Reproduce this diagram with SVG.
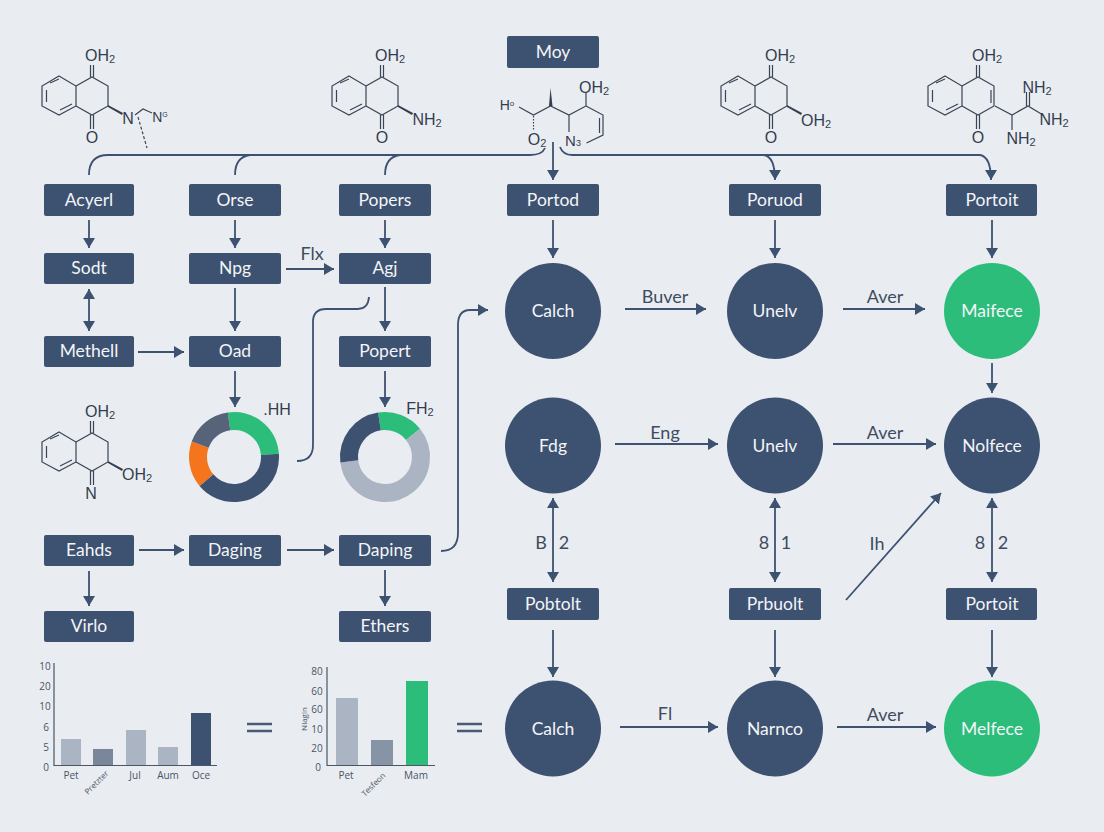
<svg xmlns="http://www.w3.org/2000/svg" width="1104" height="832" viewBox="0 0 1104 832">
<style>
text{font-family:"Lato","Open Sans","Liberation Sans",sans-serif}
.bx{fill:#3d5170}
.dk{fill:#3d5170}
.gr{fill:#2dbd7b}
.nt{fill:#f3f5f8;font-size:17.500px;text-anchor:middle;dominant-baseline:central;transform:translateY(-1px)}
.lb{fill:#3f4c60;font-size:18px;text-anchor:middle;dominant-baseline:central;transform:translateY(-1px)}
.c{fill:none;stroke:#3d5170;stroke-width:1.800}
.a{marker-end:url(#ah)}
.d{marker-end:url(#ah);marker-start:url(#ah)}
.b{fill:none;stroke:#3a4454;stroke-width:1.200}
.w{fill:#333d4d}
.ch{fill:#333d4d;font-family:"Liberation Sans",sans-serif;font-size:16px;text-anchor:middle;dominant-baseline:central}
.sb{font-size:11px}
.t{fill:#4a5464;font-size:10px;text-anchor:middle;dominant-baseline:central;font-family:"Open Sans",sans-serif}
.ax{stroke:#4a5568;stroke-width:1.200;fill:none}
.eq{stroke:#4a5b74;stroke-width:2.600}
.dn{fill:none;stroke-width:18}
</style>
<defs>
<marker id="ah" markerUnits="userSpaceOnUse" markerWidth="12" markerHeight="12" refX="10" refY="6" orient="auto-start-reverse"><path d="M0 0L10 6L0 12z" fill="#3d5170"/></marker>
<g id="ring">
<path class="b" d="M59 76L76 86L76 106L59 115L42 106L42 86Z"/>
<path class="b" d="M46.500 90V102M50 83L59 79M60 110L72 104"/>
<path class="b" d="M76 86L92 77L108 86L108 106L92 115L76 106"/>
</g>
<path id="co" class="b" d="M90.500 77V65M93.500 77V65"/>
<path id="co2" class="b" d="M90.500 115V129M93.500 115V129"/>
</defs>
<rect width="1104" height="832" fill="#e9edf2"/>

<g id="connectors">
<path class="c" d="M89 175Q89 155 108 155H530Q542 155 545 148"/>
<path class="c" d="M235 175Q235 157 250 155"/>
<path class="c" d="M385 175Q385 157 400 155"/>
<path class="c a" d="M553 142V180"/>
<path class="c" d="M560 147Q563 155 572 155H980"/>
<path class="c a" d="M764 155Q775 157 775 180"/>
<path class="c a" d="M980 155Q991 157 991 180"/>
<path class="c a" d="M89 220V248"/><path class="c a" d="M235 220V248"/><path class="c a" d="M385 220V248"/>
<path class="c a" d="M553 220V258"/><path class="c a" d="M775 220V258"/><path class="c a" d="M992 220V258"/>
<path class="c d" d="M89 289V331"/><path class="c a" d="M235 288V331"/><path class="c a" d="M385 287V331"/>
<path class="c a" d="M286 269H334"/><path class="c a" d="M138 352H184"/>
<path class="c a" d="M235 371V407"/><path class="c a" d="M385 371V407"/>
<path class="c" d="M297 461Q313 461 313 445V322Q313 309 326 309H358Q368 309 369 297"/>
<path class="c a" d="M441 551Q458 551 458 533V325Q458 310 470 310H488"/>
<path class="c a" d="M139 550H184"/><path class="c a" d="M287 550H334"/>
<path class="c a" d="M89 571V606"/><path class="c a" d="M385 570V606"/>
<path class="c a" d="M625 309H706"/><path class="c a" d="M843 309H925"/>
<path class="c a" d="M992 363V393"/>
<path class="c a" d="M615 444H718"/><path class="c a" d="M833 444H936"/>
<path class="c d" d="M553 498V582"/><path class="c d" d="M775 498V582"/><path class="c d" d="M992 498V582"/>
<path class="c a" d="M846 600L941 493"/>
<path class="c a" d="M553 630V677"/><path class="c a" d="M775 630V677"/><path class="c a" d="M992 630V677"/>
<path class="c a" d="M620 727H718"/><path class="c a" d="M837 727H936"/>
</g>

<g id="mol1"><use href="#ring"/><use href="#co"/><use href="#co2"/>
<path class="w" d="M108 105L123 113L122 115L108 107Z"/>
<text class="ch" x="100" y="55">OH<tspan class="sb" dy="4">2</tspan></text><text class="ch" x="92" y="137">O</text>
<text class="ch" x="128" y="118">N</text><text class="ch" x="160" y="117" style="font-size:14px">N<tspan class="sb" dy="-3" style="font-size:7px">G</tspan></text>
<path class="b" d="M135 115L143 109L152 113"/><path class="b" stroke-dasharray="3 2" d="M138 117L147 148"/></g>
<g id="mol2"><g transform="translate(290)"><use href="#ring"/><use href="#co"/><use href="#co2"/><path class="w" d="M108 105L123 113L122 115L108 107Z"/></g>
<text class="ch" x="390" y="55">OH<tspan class="sb" dy="4">2</tspan></text><text class="ch" x="382" y="137">O</text><text class="ch" x="427" y="119">NH<tspan class="sb" dy="4">2</tspan></text></g>
<g id="mol3"><g transform="translate(679)"><use href="#ring"/><use href="#co"/><use href="#co2"/><path class="w" d="M108 105L123 113L122 115L108 107Z"/></g>
<text class="ch" x="780" y="55">OH<tspan class="sb" dy="4">2</tspan></text><text class="ch" x="771" y="137">O</text><text class="ch" x="816" y="120">OH<tspan class="sb" dy="4">2</tspan></text></g>
<g id="mol4"><g transform="translate(886)"><use href="#ring"/><use href="#co"/><use href="#co2"/></g>
<path class="b" d="M991 90V103M995 106L1012 115L1028 106L1043 115M1012 115V130M1026.500 106V92M1029.500 106V92"/>
<text class="ch" x="987" y="55">OH<tspan class="sb" dy="4">2</tspan></text><text class="ch" x="978" y="137">O</text>
<text class="ch" x="1037" y="87">NH<tspan class="sb" dy="4">2</tspan></text><text class="ch" x="1054" y="119">NH<tspan class="sb" dy="4">2</tspan></text><text class="ch" x="1021" y="138">NH<tspan class="sb" dy="4">2</tspan></text></g>
<g id="mol5"><path class="b" d="M519 107L533.500 115L550.500 106L569 115L586 106V92M586 106L603 115V135L586.500 143M599.500 118V133M569 115V132"/>
<path class="w" d="M549 106L550.500 88L552.500 106Z"/>
<path class="b" stroke-dasharray="1.500 1.500" stroke-width="3" d="M533.500 116V130"/>
<text class="ch" x="507" y="105" style="font-size:14px">H<tspan class="sb" dy="-2" style="font-size:8px">o</tspan></text>
<text class="ch" x="594" y="87">OH<tspan class="sb" dy="4">2</tspan></text><text class="ch" x="537" y="139">O<tspan class="sb" dy="4">2</tspan></text><text class="ch" x="573" y="140" style="font-size:15px">N<tspan class="sb" dy="3" style="font-size:9px">3</tspan></text></g>
<g id="mol6"><g transform="translate(0 356)"><use href="#ring"/><use href="#co"/><use href="#co2"/><path class="w" d="M108 105L123 113L122 115L108 107Z"/></g>
<text class="ch" x="100" y="411">OH<tspan class="sb" dy="4">2</tspan></text><text class="ch" x="137" y="474">OH<tspan class="sb" dy="4">2</tspan></text><text class="ch" x="91" y="493">N</text></g>

<g id="n-moy"><rect class="bx" x="507" y="36" width="92" height="32" rx="2"/><text class="nt" x="553" y="52">Moy</text></g>
<g id="n-acyerl"><rect class="bx" x="44" y="184" width="90" height="32" rx="2"/><text class="nt" x="89" y="200">Acyerl</text></g>
<g id="n-orse"><rect class="bx" x="189" y="184" width="92" height="32" rx="2"/><text class="nt" x="235" y="200">Orse</text></g>
<g id="n-popers"><rect class="bx" x="339" y="184" width="92" height="32" rx="2"/><text class="nt" x="385" y="200">Popers</text></g>
<g id="n-portod"><rect class="bx" x="507" y="184" width="92" height="32" rx="2"/><text class="nt" x="553" y="200">Portod</text></g>
<g id="n-poruod"><rect class="bx" x="729" y="184" width="92" height="32" rx="2"/><text class="nt" x="775" y="200">Poruod</text></g>
<g id="n-portoit1"><rect class="bx" x="946" y="184" width="91" height="32" rx="2"/><text class="nt" x="992" y="200">Portoit</text></g>
<g id="n-sodt"><rect class="bx" x="44" y="253" width="90" height="31" rx="2"/><text class="nt" x="89" y="268">Sodt</text></g>
<g id="n-npg"><rect class="bx" x="189" y="253" width="92" height="31" rx="2"/><text class="nt" x="235" y="268">Npg</text></g>
<g id="n-agj"><rect class="bx" x="339" y="253" width="92" height="31" rx="2"/><text class="nt" x="385" y="268">Agj</text></g>
<g id="n-methell"><rect class="bx" x="44" y="336" width="90" height="31" rx="2"/><text class="nt" x="89" y="351">Methell</text></g>
<g id="n-oad"><rect class="bx" x="189" y="336" width="92" height="31" rx="2"/><text class="nt" x="235" y="351">Oad</text></g>
<g id="n-popert"><rect class="bx" x="339" y="336" width="92" height="31" rx="2"/><text class="nt" x="385" y="351">Popert</text></g>
<g id="n-eahds"><rect class="bx" x="44" y="535" width="90" height="31" rx="2"/><text class="nt" x="89" y="550">Eahds</text></g>
<g id="n-daging"><rect class="bx" x="189" y="535" width="92" height="31" rx="2"/><text class="nt" x="235" y="550">Daging</text></g>
<g id="n-daping"><rect class="bx" x="339" y="535" width="92" height="31" rx="2"/><text class="nt" x="385" y="550">Daping</text></g>
<g id="n-virlo"><rect class="bx" x="44" y="611" width="90" height="31" rx="2"/><text class="nt" x="89" y="626">Virlo</text></g>
<g id="n-ethers"><rect class="bx" x="339" y="611" width="92" height="31" rx="2"/><text class="nt" x="385" y="626">Ethers</text></g>
<g id="n-pobtolt"><rect class="bx" x="507" y="588" width="92" height="32" rx="2"/><text class="nt" x="553" y="604">Pobtolt</text></g>
<g id="n-prbuolt"><rect class="bx" x="729" y="588" width="92" height="32" rx="2"/><text class="nt" x="775" y="604">Prbuolt</text></g>
<g id="n-portoit2"><rect class="bx" x="946" y="588" width="91" height="32" rx="2"/><text class="nt" x="992" y="604">Portoit</text></g>

<g id="c-calch1"><circle class="dk" cx="553" cy="311" r="48"/><text class="nt" x="553" y="311">Calch</text></g>
<g id="c-unelv1"><circle class="dk" cx="775" cy="311" r="48"/><text class="nt" x="775" y="311">Unelv</text></g>
<g id="c-maifece"><circle class="gr" cx="992" cy="311" r="48"/><text class="nt" x="992" y="311">Maifece</text></g>
<g id="c-fdg"><circle class="dk" cx="553" cy="445.500" r="48"/><text class="nt" x="553" y="446">Fdg</text></g>
<g id="c-unelv2"><circle class="dk" cx="775" cy="445.500" r="48"/><text class="nt" x="775" y="446">Unelv</text></g>
<g id="c-nolfece"><circle class="dk" cx="992" cy="445.500" r="48"/><text class="nt" x="992" y="446">Nolfece</text></g>
<g id="c-calch2"><circle class="dk" cx="553" cy="728.500" r="48"/><text class="nt" x="553" y="729">Calch</text></g>
<g id="c-narnco"><circle class="dk" cx="775" cy="728.500" r="48"/><text class="nt" x="775" y="729">Narnco</text></g>
<g id="c-melfece"><circle class="gr" cx="992" cy="728.500" r="48"/><text class="nt" x="992" y="729">Melfece</text></g>

<g id="labels">
<text class="lb" x="312" y="254">Flx</text>
<text class="lb" x="665" y="297">Buver</text><text class="lb" x="885" y="297">Aver</text>
<text class="lb" x="665" y="433">Eng</text><text class="lb" x="885" y="433">Aver</text>
<text class="lb" x="665" y="714">Fl</text><text class="lb" x="885" y="715">Aver</text>
<text class="lb" x="541" y="543">B</text><text class="lb" x="564" y="543">2</text>
<text class="lb" x="764" y="543">8</text><text class="lb" x="786" y="543">1</text>
<text class="lb" x="980" y="543">8</text><text class="lb" x="1003" y="543">2</text>
<text class="lb" x="877" y="544">Ih</text>
</g>

<g id="donut1">
<circle class="dn" cx="234" cy="457" r="36" pathLength="360" stroke="#2dbd7b" stroke-dasharray="94 266" transform="rotate(-98 234 457)"/>
<circle class="dn" cx="234" cy="457" r="36" pathLength="360" stroke="#3d5170" stroke-dasharray="144 216" transform="rotate(-4 234 457)"/>
<circle class="dn" cx="234" cy="457" r="36" pathLength="360" stroke="#f4751c" stroke-dasharray="60 300" transform="rotate(140 234 457)"/>
<circle class="dn" cx="234" cy="457" r="36" pathLength="360" stroke="#566379" stroke-dasharray="62 298" transform="rotate(200 234 457)"/>
<text class="ch" x="277" y="409">.HH</text>
</g>
<g id="donut2">
<circle class="dn" cx="385" cy="457" r="36" pathLength="360" stroke="#2dbd7b" stroke-dasharray="60 300" transform="rotate(-99 385 457)"/>
<circle class="dn" cx="385" cy="457" r="36" pathLength="360" stroke="#abb4c3" stroke-dasharray="212 148" transform="rotate(-39 385 457)"/>
<circle class="dn" cx="385" cy="457" r="36" pathLength="360" stroke="#3d5170" stroke-dasharray="88 272" transform="rotate(173 385 457)"/>
<text class="ch" x="420" y="408">FH<tspan class="sb" dy="4">2</tspan></text>
</g>

<g id="chart1">
<path class="ax" d="M54 663V765.500H217"/>
<rect x="61" y="739" width="20" height="26" fill="#abb4c3"/><rect x="93" y="749" width="20" height="16" fill="#7a8699"/><rect x="126" y="730" width="20" height="35" fill="#abb4c3"/><rect x="158" y="747" width="20" height="18" fill="#abb4c3"/><rect x="191" y="713" width="20" height="52" fill="#3d5170"/>
<text class="t" x="45" y="666">10</text><text class="t" x="45" y="686">20</text><text class="t" x="45" y="706">10</text><text class="t" x="46" y="727">6</text><text class="t" x="46" y="747">5</text><text class="t" x="46" y="767">0</text>
<text class="t" x="71" y="775">Pet</text><text class="t" x="96" y="782" style="font-size:8px" transform="rotate(-45 96 782)">Pretzter</text><text class="t" x="135" y="775">Jul</text><text class="t" x="168" y="775">Aum</text><text class="t" x="201" y="775">Oce</text>
</g>
<g id="chart2">
<path class="ax" d="M327 667V765.500H435"/>
<rect x="336" y="698" width="22" height="67" fill="#abb4c3"/><rect x="371" y="740" width="22" height="25" fill="#8794a6"/><rect x="406" y="681" width="22" height="84" fill="#2dbd7b"/>
<text class="t" x="317" y="671">80</text><text class="t" x="317" y="691">60</text><text class="t" x="317" y="709">60</text><text class="t" x="317" y="729">10</text><text class="t" x="317" y="748">20</text><text class="t" x="318" y="767">0</text>
<text class="t" x="303" y="719" style="font-size:8px" transform="rotate(-90 303 719)">Nlagin</text>
<text class="t" x="346" y="775">Pet</text><text class="t" x="373" y="784" style="font-size:8px" transform="rotate(-45 373 784)">Tesfeon</text><text class="t" x="416" y="775">Mam</text>
</g>
<g id="equals"><path class="eq" d="M247 724H272M247 731H272M457 724H482M457 731H482"/></g>
</svg>
